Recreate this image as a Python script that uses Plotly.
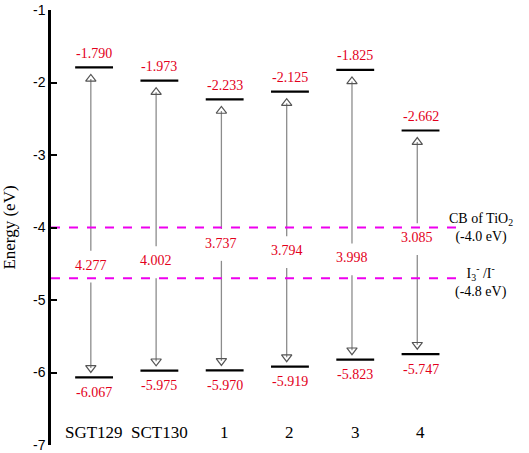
import plotly.graph_objects as go

# data
dyes = ['SGT129', 'SCT130', '1', '2', '3', '4']
lumo = [-1.790, -1.973, -2.233, -2.125, -1.825, -2.662]
homo = [-6.067, -5.975, -5.970, -5.919, -5.823, -5.747]
gap = [4.277, 4.002, 3.737, 3.794, 3.998, 3.085]
gap_label_y = [-4.52, -4.46, -4.22, -4.32, -4.42, -4.14]
ref_levels = [-4.0, -4.7]
ref_labels = ['CB of TiO<sub>2</sub><br>(-4.0 eV)', 'I<sub>3</sub><sup>-</sup> /I<sup>-</sup><br>(-4.8 eV)']
y_ticks = [-7, -6, -5, -4, -3, -2, -1]

RED = '#e3001b'
GRAY = '#8c8c8c'
SERIF = 'Liberation Serif'

xs = list(range(len(dyes)))
xa = [x - 0.05 for x in xs]  # arrows sit a little left of centre

fig = go.Figure()

# energy level bars
for x, lu, ho in zip(xs, lumo, homo):
    for e in (lu, ho):
        fig.add_trace(go.Scatter(x=[x - 0.29, x + 0.29], y=[e, e], mode='lines',
                                 line=dict(color='black', width=2.2), hoverinfo='skip'))

# arrows (gray shafts with open triangle heads)
for x, lu, ho, gy in zip(xa, lumo, homo, gap_label_y):
    fig.add_trace(go.Scatter(x=[x, x], y=[gy + 0.2, lu - 0.16], mode='lines',
                             line=dict(color=GRAY, width=1.3), hoverinfo='skip'))
    fig.add_trace(go.Scatter(x=[x, x], y=[gy - 0.24, ho + 0.13], mode='lines',
                             line=dict(color=GRAY, width=1.3), hoverinfo='skip'))
    fig.add_trace(go.Scatter(x=[x, x], y=[lu - 0.16, ho + 0.13], mode='markers',
                             marker=dict(symbol=['triangle-up-open', 'triangle-down-open'],
                                         size=9, color='#555555', line=dict(width=1.2)),
                             hoverinfo='skip'))

# reference levels
for lv in ref_levels:
    fig.add_trace(go.Scatter(x=[-0.66, 5.6], y=[lv, lv], mode='lines',
                             line=dict(color='#ee00ee', width=1.8, dash='dash'), hoverinfo='skip'))

ann = []
for x, xr, lu, ho, g, gy, name in zip(xs, xa, lumo, homo, gap, gap_label_y, dyes):
    ann.append(dict(x=x, y=lu, text=f'{lu:.3f}', yshift=14, showarrow=False,
                    font=dict(family=SERIF, size=14, color=RED)))
    ann.append(dict(x=x, y=ho, text=f'{ho:.3f}', yshift=-15, showarrow=False,
                    font=dict(family=SERIF, size=14, color=RED)))
    ann.append(dict(x=xr, y=gy, text=f'{g:.3f}', showarrow=False,
                    font=dict(family=SERIF, size=14, color=RED)))
    ann.append(dict(x=x, y=-6.83, text=name, showarrow=False,
                    font=dict(family=SERIF, size=17, color='black')))
for lv, txt, dy in zip(ref_levels, ref_labels, [0.0, -0.05]):
    ann.append(dict(x=5.92, y=lv + dy, text=txt, showarrow=False,
                    font=dict(family=SERIF, size=14, color='black')))

fig.update_layout(
    width=529, height=453,
    margin=dict(l=51, r=4, t=10, b=8, autoexpand=False),
    plot_bgcolor='white', paper_bgcolor='white',
    showlegend=False,
    annotations=ann,
    xaxis=dict(range=[-0.66, 6.6], visible=False),
    yaxis=dict(range=[-7, -1], tickvals=y_ticks, ticktext=[str(t) for t in y_ticks],
               showgrid=False, zeroline=False, automargin=False,
               showline=True, linecolor='black', linewidth=2.5,
               ticks='inside', ticklen=6, tickwidth=2, tickcolor='black',
               tickfont=dict(family='Liberation Sans', size=14, color='black'),
               title=dict(text='Energy (eV)', standoff=14,
                          font=dict(family=SERIF, size=17, color='black'))),
)

# drop the default 8px body margin so the figure sits at the window's corner
fig.write_html('out.html', config={'displayModeBar': False},
               post_script="document.body.style.margin='0';")
